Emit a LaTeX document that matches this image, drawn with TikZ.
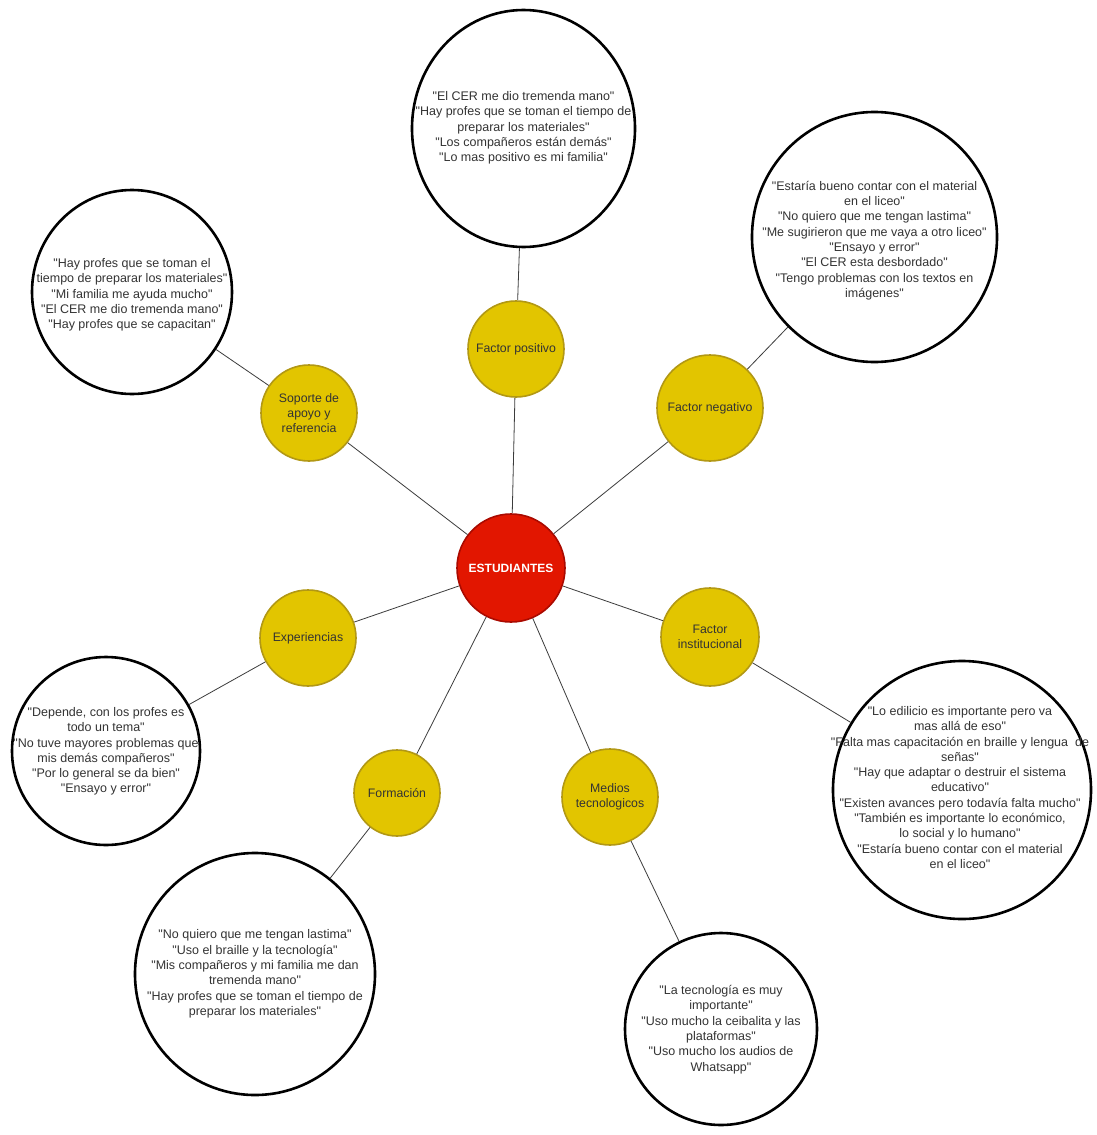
\documentclass[tikz,border=0pt]{standalone}
\usepackage{fontspec}
\setmainfont{Liberation Sans}
\usetikzlibrary{shapes.geometric}
\definecolor{yfill}{RGB}{226,197,0}
\definecolor{ydraw}{RGB}{178,152,20}
\definecolor{rfill}{RGB}{226,22,0}
\definecolor{rdraw}{RGB}{170,10,0}
\definecolor{txt}{RGB}{51,51,51}
\definecolor{edge}{RGB}{60,60,60}
\newcommand{\Q}{\textquotedbl}
\begin{document}
\begin{tikzpicture}[x=1pt,y=-1pt,
  hub/.style={circle,fill=rfill,draw=rdraw,line width=1.6pt,minimum size=108pt,inner sep=0pt,text=white,font=\fontsize{12}{14}\selectfont\bfseries},
  topic/.style={circle,fill=yfill,draw=ydraw,line width=1.6pt,inner sep=0pt,text=txt,align=center,font=\fontsize{12.3}{15}\selectfont},
  quote/.style={ellipse,draw=black,line width=2.6pt,fill=white,inner sep=0pt},
  qtext/.style={align=center,text=txt,font=\fontsize{12.5}{15.3}\selectfont,inner sep=0pt},
  link/.style={draw=edge,line width=0.8pt}]
\useasboundingbox[fill=white] (0,0) rectangle (1096,1135);

% central and topic nodes
\node[hub] (hub) at (511,568) {ESTUDIANTES};
\node[topic,minimum size=96pt] (pos) at (516,349) {Factor positivo};
\node[topic,minimum size=106pt] (neg) at (710,408) {Factor negativo};
\node[topic,minimum size=96pt] (sop) at (309,413) {Soporte de\\apoyo y\\referencia};
\node[topic,minimum size=96pt] (exp) at (308,638) {Experiencias};
\node[topic,minimum size=98pt] (ins) at (710,637) {Factor\\institucional};
\node[topic,minimum size=86pt] (for) at (397,793) {Formación};
\node[topic,minimum size=96pt] (med) at (610,797) {Medios\\tecnologicos};

% quote bubbles
\node[quote,minimum width=223pt,minimum height=237pt] (qpos) at (523.5,128.5) {};
\node[qtext] (tpos) at (523.5,128) {\Q El CER me dio tremenda mano\Q\\\Q Hay profes que se toman el tiempo de\\preparar los materiales\Q\\\Q Los compañeros están demás\Q\\\Q Lo mas positivo es mi familia\Q};

\node[quote,minimum width=245pt,minimum height=250pt] (qneg) at (874.5,237) {};
\node[qtext] (tneg) at (874.5,240.5) {\Q Estaría bueno contar con el material\\en el liceo\Q\\\Q No quiero que me tengan lastima\Q\\\Q Me sugirieron que me vaya a otro liceo\Q\\\Q Ensayo y error\Q\\\Q El CER esta desbordado\Q\\\Q Tengo problemas con los textos en\\imágenes\Q};

\node[quote,minimum width=200pt,minimum height=204pt] (qsop) at (132,292) {};
\node[qtext] (tsop) at (132,295) {\Q Hay profes que se toman el\\tiempo de preparar los materiales\Q\\\Q Mi familia me ayuda mucho\Q\\\Q El CER me dio tremenda mano\Q\\\Q Hay profes que se capacitan\Q};

\node[quote,minimum width=188pt,minimum height=188pt] (qexp) at (106,751) {};
\node[qtext] (texp) at (106,751.5) {\Q Depende, con los profes es\\todo un tema\Q\\\Q No tuve mayores problemas que\\mis demás compañeros\Q\\\Q Por lo general se da bien\Q\\\Q Ensayo y error\Q};

\node[quote,minimum width=258pt,minimum height=258pt] (qins) at (962,790) {};
\node[qtext] (tins) at (960,787.5) {\Q Lo edilicio es importante pero va\\mas allá de eso\Q\\\Q Falta mas capacitación en braille y lengua\ \ de\\señas\Q\\\Q Hay que adaptar o destruir el sistema\\educativo\Q\\\Q Existen avances pero todavía falta mucho\Q\\\Q También es importante lo económico,\\lo social y lo humano\Q\\\Q Estaría bueno contar con el material\\en el liceo\Q};

\node[quote,minimum width=240pt,minimum height=242pt] (qfor) at (255,974) {};
\node[qtext] (tfor) at (255,974) {\Q No quiero que me tengan lastima\Q\\\Q Uso el braille y la tecnología\Q\\\Q Mis compañeros y mi familia me dan\\tremenda mano\Q\\\Q Hay profes que se toman el tiempo de\\preparar los materiales\Q};

\node[quote,minimum width=192pt,minimum height=192pt] (qmed) at (721,1029) {};
\node[qtext] (tmed) at (721,1029.5) {\Q La tecnología es muy\\importante\Q\\\Q Uso mucho la ceibalita y las\\plataformas\Q\\\Q Uso mucho los audios de\\Whatsapp\Q};

% connectors
\draw[link] (hub) -- (pos);
\draw[link] (hub) -- (neg);
\draw[link] (hub) -- (sop);
\draw[link] (hub) -- (exp);
\draw[link] (hub) -- (ins);
\draw[link] (hub) -- (for);
\draw[link] (hub) -- (med);
\draw[link] (pos) -- (qpos);
\draw[link] (neg) -- (qneg);
\draw[link] (sop) -- (qsop);
\draw[link] (exp) -- (qexp);
\draw[link] (ins) -- (qins);
\draw[link] (for) -- (qfor);
\draw[link] (med) -- (qmed);
\end{tikzpicture}
\end{document}
